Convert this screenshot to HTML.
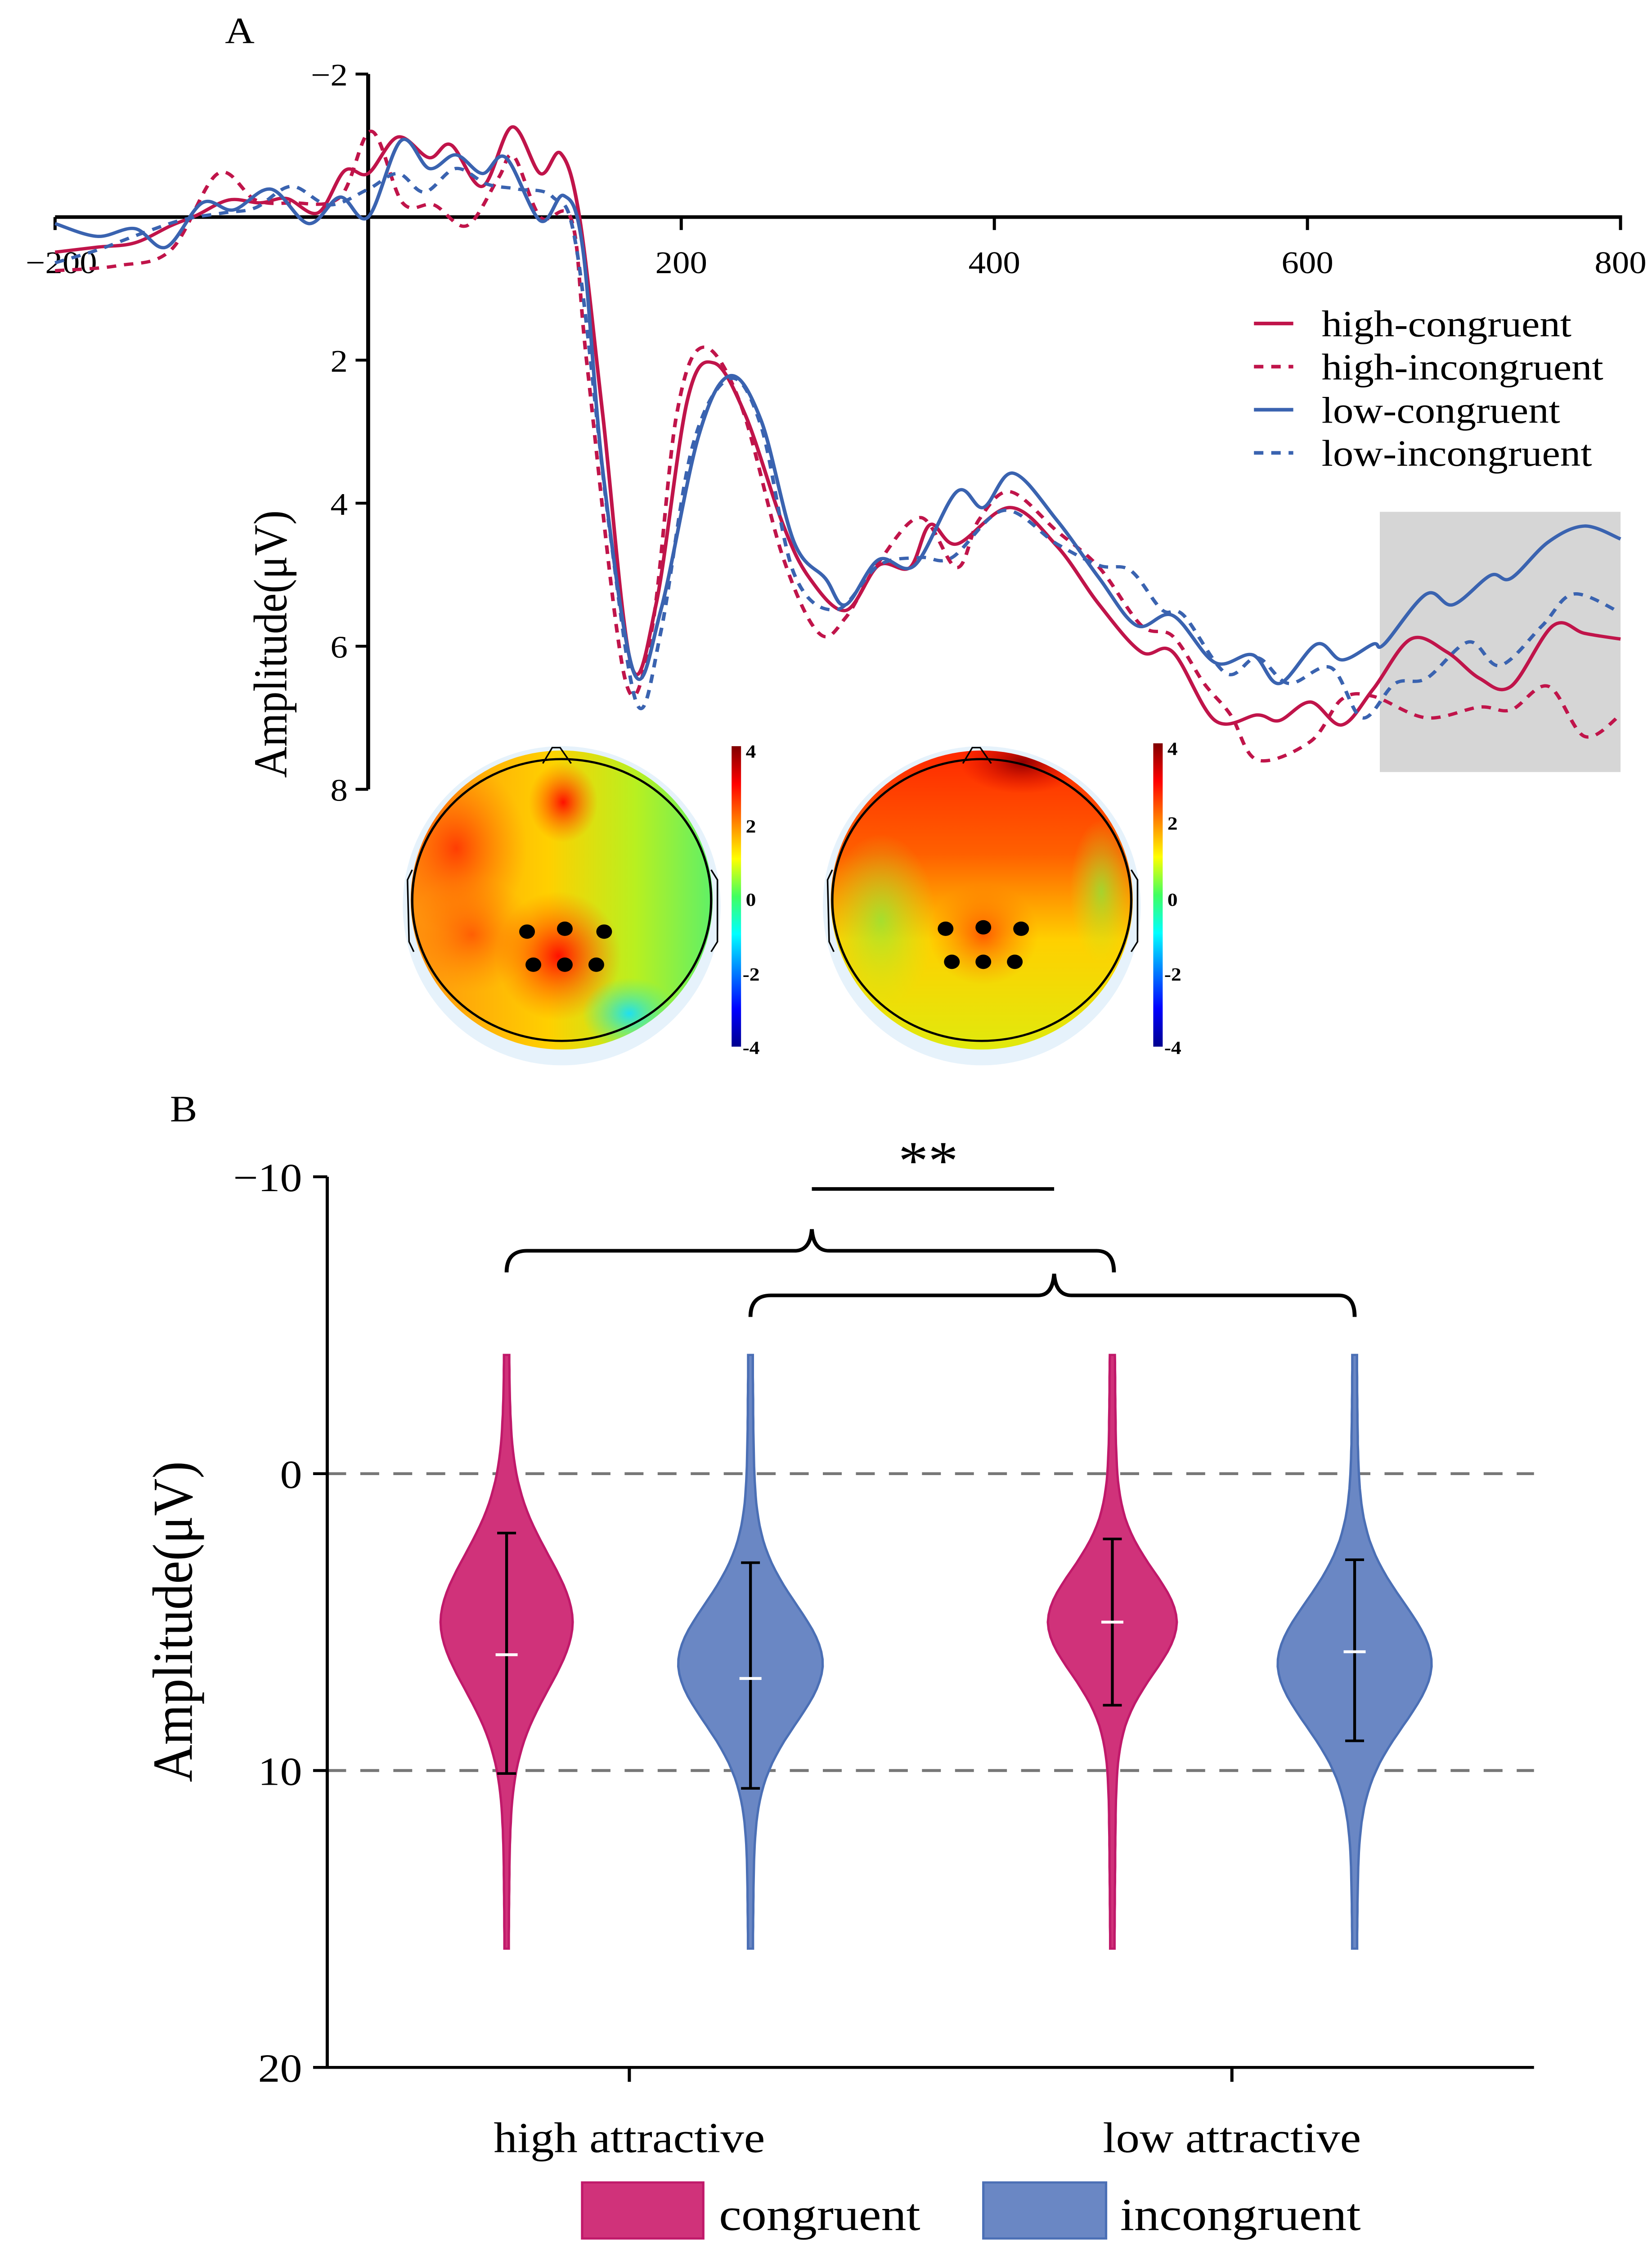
<!DOCTYPE html>
<html><head><meta charset="utf-8"><style>
html,body{margin:0;padding:0;background:#fff;width:100%;height:100%;overflow:hidden;}
svg{display:block;position:fixed;left:0;top:0;width:100vw;height:100vh;}
text{font-family:"Liberation Serif",serif;fill:#000;}
</style></head><body>
<svg id="fig" xmlns="http://www.w3.org/2000/svg" viewBox="0 0 1050 1565" preserveAspectRatio="none">
<defs>
<linearGradient id="cbar" x1="0" y1="1" x2="0" y2="0">
<stop offset="0" stop-color="#00008f"/><stop offset="0.125" stop-color="#0000ff"/><stop offset="0.375" stop-color="#00ffff"/><stop offset="0.5" stop-color="#40ff60"/><stop offset="0.625" stop-color="#ffff00"/><stop offset="0.875" stop-color="#ff0000"/><stop offset="1" stop-color="#800000"/>
</linearGradient>
<linearGradient id="t1base" x1="0" y1="0" x2="1" y2="0">
<stop offset="0" stop-color="#ff8a10"/><stop offset="0.45" stop-color="#ffd000"/><stop offset="0.7" stop-color="#b8f020"/><stop offset="1" stop-color="#40f080"/>
</linearGradient>
<linearGradient id="t2base" x1="0" y1="0" x2="0" y2="1">
<stop offset="0" stop-color="#ff2000"/><stop offset="0.35" stop-color="#ff6000"/><stop offset="0.6" stop-color="#ffd000"/><stop offset="1" stop-color="#d8f010"/>
</linearGradient>
<radialGradient id="blobRed"><stop offset="0" stop-color="#ff1000" stop-opacity="1"/><stop offset="1" stop-color="#ff6000" stop-opacity="0"/></radialGradient>
<radialGradient id="blobCyan"><stop offset="0" stop-color="#20e0f0" stop-opacity="1"/><stop offset="1" stop-color="#40f0a0" stop-opacity="0"/></radialGradient>
<radialGradient id="blobDark"><stop offset="0" stop-color="#900000" stop-opacity="1"/><stop offset="1" stop-color="#e00000" stop-opacity="0"/></radialGradient>
<radialGradient id="blobGreen"><stop offset="0" stop-color="#80f040" stop-opacity="1"/><stop offset="1" stop-color="#c0f020" stop-opacity="0"/></radialGradient>
<clipPath id="clipL"><ellipse cx="357" cy="626" rx="96" ry="104"/></clipPath>
<clipPath id="clipR"><ellipse cx="624" cy="626" rx="96" ry="104"/></clipPath>
</defs>

<text x="143" y="30" font-size="26">A</text>
<rect x="877" y="356" width="153" height="181" fill="#d6d6d6"/>
<g id="erpAxes"></g>
<g id="erpLines"></g>
<text transform="translate(182,448) rotate(-90)" font-size="30" text-anchor="middle">Amplitude(μV)</text>

<g>
<line x1="797" y1="225" x2="822" y2="225" stroke="#c0144a" stroke-width="2.5"/>
<text x="840" y="234" font-size="26">high-congruent</text>
<line x1="797" y1="255" x2="822" y2="255" stroke="#c0144a" stroke-width="2.5" stroke-dasharray="6,5"/>
<text x="840" y="264" font-size="26">high-incongruent</text>
<line x1="797" y1="285" x2="822" y2="285" stroke="#3a63b0" stroke-width="2.5"/>
<text x="840" y="294" font-size="26">low-congruent</text>
<line x1="797" y1="315" x2="822" y2="315" stroke="#3a63b0" stroke-width="2.5" stroke-dasharray="6,5"/>
<text x="840" y="324" font-size="26">low-incongruent</text>
</g>

<g>
<ellipse cx="357" cy="630" rx="101" ry="111" fill="#e6f2fb"/>
<g clip-path="url(#clipL)">
<rect x="250" y="510" width="220" height="240" fill="url(#t1base)"/>
<ellipse cx="290" cy="590" rx="45" ry="60" fill="url(#blobRed)" opacity="0.7"/>
<ellipse cx="358" cy="558" rx="22" ry="28" fill="url(#blobRed)"/>
<ellipse cx="355" cy="665" rx="40" ry="45" fill="url(#blobRed)"/>
<ellipse cx="300" cy="650" rx="40" ry="40" fill="url(#blobRed)" opacity="0.5"/>
<ellipse cx="400" cy="705" rx="30" ry="25" fill="url(#blobCyan)"/>
</g>
<ellipse cx="357" cy="626" rx="95" ry="98" fill="none" stroke="#000" stroke-width="1.5"/>
<path d="M345 531 L351 520 L356 520 L363 531" fill="none" stroke="#000" stroke-width="1"/>
<path d="M262 605 L259 612 L260 655 L263 662" fill="none" stroke="#000" stroke-width="1"/>
<path d="M452 605 L456 612 L456 655 L452 662" fill="none" stroke="#000" stroke-width="1"/>
<circle cx="335" cy="648" r="5"/>
<circle cx="359" cy="646" r="5"/>
<circle cx="384" cy="648" r="5"/>
<circle cx="339" cy="671" r="5"/>
<circle cx="359" cy="671" r="5"/>
<circle cx="379" cy="671" r="5"/>
</g>
<g>
<rect x="465" y="519" width="6" height="209" fill="url(#cbar)"/>
<text x="474" y="527" font-size="13" font-weight="bold">4</text>
<text x="474" y="579" font-size="13" font-weight="bold">2</text>
<text x="474" y="630" font-size="13" font-weight="bold">0</text>
<text x="472" y="682" font-size="13" font-weight="bold">-2</text>
<text x="472" y="733" font-size="13" font-weight="bold">-4</text>
</g>

<g>
<ellipse cx="624" cy="630" rx="101" ry="111" fill="#e6f2fb"/>
<g clip-path="url(#clipR)">
<rect x="515" y="510" width="220" height="240" fill="url(#t2base)"/>
<ellipse cx="560" cy="640" rx="35" ry="60" fill="url(#blobGreen)" opacity="0.7"/>
<ellipse cx="700" cy="620" rx="20" ry="50" fill="url(#blobGreen)" opacity="0.7"/>
<ellipse cx="625" cy="650" rx="35" ry="35" fill="url(#blobRed)" opacity="0.6"/>
<ellipse cx="650" cy="530" rx="40" ry="22" fill="url(#blobDark)"/>
</g>
<ellipse cx="624" cy="626" rx="95" ry="98" fill="none" stroke="#000" stroke-width="1.5"/>
<path d="M612 531 L618 520 L623 520 L630 531" fill="none" stroke="#000" stroke-width="1"/>
<path d="M529 605 L526 612 L527 655 L530 662" fill="none" stroke="#000" stroke-width="1"/>
<path d="M719 605 L723 612 L723 655 L719 662" fill="none" stroke="#000" stroke-width="1"/>
<circle cx="601" cy="646" r="5"/>
<circle cx="625" cy="645" r="5"/>
<circle cx="649" cy="646" r="5"/>
<circle cx="605" cy="669" r="5"/>
<circle cx="625" cy="669" r="5"/>
<circle cx="645" cy="669" r="5"/>
</g>
<g>
<rect x="733" y="517" width="6" height="211" fill="url(#cbar)"/>
<text x="742" y="525" font-size="13" font-weight="bold">4</text>
<text x="742" y="577" font-size="13" font-weight="bold">2</text>
<text x="742" y="630" font-size="13" font-weight="bold">0</text>
<text x="740" y="682" font-size="13" font-weight="bold">-2</text>
<text x="740" y="733" font-size="13" font-weight="bold">-4</text>
</g>

<text x="108" y="780" font-size="26">B</text>
<g id="violinAxes"></g>
<g id="violins"></g>
<text transform="translate(122,1128) rotate(-90)" font-size="36" text-anchor="middle">Amplitude(μV)</text>

<g>
<path d="M322 885 Q322 870 335 870 L505 870 Q515 870 516 855 Q517 870 527 870 L697 870 Q708 870 708 885" fill="none" stroke="#000" stroke-width="2.5"/>
<path d="M477 916 Q477 901 490 901 L660 901 Q669 901 670 886 Q671 901 681 901 L851 901 Q861 901 861 916" fill="none" stroke="#000" stroke-width="2.5"/>
<line x1="516" y1="827" x2="670" y2="827" stroke="#000" stroke-width="2.5"/>
<text x="590" y="820" font-size="38" text-anchor="middle">**</text>
</g>

<g>
<rect x="370" y="1518" width="77" height="39" fill="#d0327a" stroke="#c0196a" stroke-width="1.5"/>
<text x="457" y="1551" font-size="32">congruent</text>
<rect x="625" y="1518" width="78" height="39" fill="#6a87c4" stroke="#4b6fb5" stroke-width="1.5"/>
<text x="712" y="1551" font-size="32">incongruent</text>
</g>
</svg>

<script>
const hcT=[-200,-173,-149,-126,-110,-89,-69,-52,-32,-15,0,19,39,53,73,92,110,123,135,150,168,184,204,221,241,265,282,305,326,346,359,376,410,440,467,494,514,541,568,582,602,622,642,666,689,710,730,757,777,800];
const hcV=[0.49,0.42,0.36,0.12,-0.02,-0.24,-0.2,-0.26,-0.06,-0.65,-0.61,-1.12,-0.83,-1.01,-0.43,-1.26,-0.61,-0.89,0,2.8,6.26,5.4,2.55,2.04,2.77,4.3,5.05,5.5,4.87,4.9,4.3,4.57,4.06,4.6,5.42,6.08,6.08,7.04,6.96,7.04,6.78,7.1,6.6,5.9,6.08,6.45,6.56,5.71,5.82,5.9];
const hiT=[-200,-160,-126,-96,-72,-49,-18,2,22,42,63,83,93,110,130,140,164,181,197,214,238,265,288,305,326,353,376,390,410,440,467,494,514,534,551,568,602,622,642,676,710,730,754,777,800];
const hiV=[0.75,0.68,0.46,-0.61,-0.24,-0.2,-0.28,-1.2,-0.2,-0.17,0.12,-0.54,-0.85,0,0.05,2.1,6.45,5.79,2.77,1.82,2.62,4.76,5.82,5.6,4.83,4.2,4.9,4.24,3.84,4.39,4.9,5.71,5.86,6.52,6.96,7.59,7.33,6.74,6.7,7.0,6.85,6.89,6.56,7.26,6.96];
const lcT=[-200,-173,-149,-129,-106,-86,-62,-38,-18,0,21,39,56,73,88,110,125,137,150,170,187,211,231,251,272,292,305,326,349,376,393,412,440,467,491,514,541,565,582,606,622,642,649,676,693,717,730,754,777,800];
const lcV=[0.09,0.27,0.16,0.42,-0.2,-0.1,-0.39,0.09,-0.28,0,-1.07,-0.68,-0.87,-0.61,-0.83,0.05,-0.3,0.42,3.58,6.38,5.49,3.07,2.22,2.84,4.54,5.05,5.42,4.79,4.87,3.84,4.06,3.58,4.24,5.05,5.71,5.57,6.23,6.12,6.52,5.97,6.19,5.97,5.97,5.27,5.42,5.01,5.05,4.54,4.32,4.5];
const liT=[-200,-173,-146,-119,-92,-72,-49,-25,0,19,36,56,76,96,118,133,154,172,187,207,231,251,272,299,326,353,373,406,440,467,487,507,521,548,568,588,615,635,656,676,703,723,750,770,800];
const liV=[0.64,0.46,0.24,0.04,-0.06,-0.13,-0.43,-0.17,-0.39,-0.61,-0.35,-0.68,-0.46,-0.39,-0.28,0.42,4.32,6.82,5.79,3.22,2.26,2.92,4.98,5.49,4.87,4.76,4.76,4.1,4.57,4.87,4.94,5.49,5.57,6.38,6.16,6.52,6.3,7.0,6.52,6.45,5.94,6.27,5.71,5.27,5.53];
const xTicks=[-200,200,400,600,800];
const yTicks=[-2,2,4,6,8];

const conditions=["high-congruent","high-incongruent","low-congruent","low-incongruent"];
const means=[6.1,6.9,5.0,6.0];
const lowerErr=[2.0,3.0,2.2,2.9];
const upperErr=[10.1,10.6,7.8,9.0];
const modes=[5.0,6.4,5.0,6.4];
const spreads=[2.6,2.3,2.0,2.4];
const peakWidths=[38,42,37,45];
const violinMin=[-4,-4,-4,-4];
const violinMax=[16,16,16,16];
const vTicks=[-10,0,10,20];
const groupLabels=["high attractive","low attractive"];

const NS="http://www.w3.org/2000/svg";
function mk(tag,attrs,parent){const e=document.createElementNS(NS,tag);for(const k in attrs)e.setAttribute(k,attrs[k]);parent.appendChild(e);return e;}

const ex=t=>234+(t-0)*(1030-35)/1000;
const ey=v=>151+v*49.75;
const ax=document.getElementById('erpAxes');
let l=mk('line',{x1:35,y1:ey(0),x2:1031,y2:ey(0),stroke:'#000','stroke-width':2.5},ax);


l=mk('line',{x1:234,y1:ey(-2),x2:234,y2:ey(8),stroke:'#000','stroke-width':2.5},ax);


xTicks.forEach(t=>{
  const tk=mk('line',{x1:ex(t),y1:ey(0),x2:ex(t),y2:ey(0)+9,stroke:'#000','stroke-width':2},ax);
  
  
  const tx=mk('text',{x:ex(t)+(t===-200?4:0),y:190,'font-size':22,'text-anchor':'middle'},ax);
  tx.textContent=t<0?'−'+(-t):String(t);
  
  
});
yTicks.forEach(v=>{
  const tk=mk('line',{x1:226,y1:ey(v),x2:234,y2:ey(v),stroke:'#000','stroke-width':2},ax);
  
  
  const tx=mk('text',{x:221,y:ey(v)+8,'font-size':22,'text-anchor':'end'},ax);
  tx.textContent=v<0?'−'+(-v):String(v);
  
  
});
function smooth(pts){
  let d='M'+pts[0][0].toFixed(1)+' '+pts[0][1].toFixed(1);
  for(let i=0;i<pts.length-1;i++){
    const p0=pts[Math.max(0,i-1)],p1=pts[i],p2=pts[i+1],p3=pts[Math.min(pts.length-1,i+2)];
    const c1=[p1[0]+(p2[0]-p0[0])/6,p1[1]+(p2[1]-p0[1])/6];
    const c2=[p2[0]-(p3[0]-p1[0])/6,p2[1]-(p3[1]-p1[1])/6];
    d+=` C${c1[0].toFixed(1)} ${c1[1].toFixed(1)} ${c2[0].toFixed(1)} ${c2[1].toFixed(1)} ${p2[0].toFixed(1)} ${p2[1].toFixed(1)}`;
  }
  return d;
}
const lines=document.getElementById('erpLines');
[[hcT,hcV,'#c0144a',null,'line-high-congruent'],[hiT,hiV,'#c0144a','6,5','line-high-incongruent'],
 [lcT,lcV,'#3a63b0',null,'line-low-congruent'],[liT,liV,'#3a63b0','6,5','line-low-incongruent']].forEach(s=>{
  const pts=s[0].map((t,i)=>[ex(t),ey(s[1][i])]);
  const a={d:smooth(pts),fill:'none',stroke:s[2],'stroke-width':2.3};
  if(s[3])a['stroke-dasharray']=s[3];
  const p=mk('path',a,lines);
  
  
});

const vy=v=>1025+v*20.65;
const centers=[322,477,707,861];
const groupX=[400,783];
const va=document.getElementById('violinAxes');
[0,10].forEach(v=>{
  const g=mk('line',{x1:208,y1:vy(v),x2:975,y2:vy(v),stroke:'#777','stroke-width':2,'stroke-dasharray':'12,9'},va);
  
  
});
l=mk('line',{x1:208,y1:vy(-10),x2:208,y2:vy(20),stroke:'#000','stroke-width':2},va);


l=mk('line',{x1:207,y1:vy(20),x2:975,y2:vy(20),stroke:'#000','stroke-width':2},va);


vTicks.forEach(v=>{
  const tk=mk('line',{x1:199,y1:vy(v),x2:208,y2:vy(v),stroke:'#000','stroke-width':2},va);
  
  
  const tx=mk('text',{x:192,y:vy(v)+10,'font-size':28,'text-anchor':'end'},va);
  tx.textContent=v<0?'−'+(-v):String(v);
  
  
});
groupLabels.forEach((g,i)=>{
  const tk=mk('line',{x1:groupX[i],y1:vy(20),x2:groupX[i],y2:vy(20)+10,stroke:'#000','stroke-width':2},va);
  
  
  const tx=mk('text',{x:groupX[i],y:1497,'font-size':30,'text-anchor':'middle'},va);
  tx.textContent=g;
  
  
});
const vg=document.getElementById('violins');
conditions.forEach((c,i)=>{
  const red=i%2===0;
  const cx=centers[i];
  const left=[],right=[];
  for(let k=0;k<=80;k++){
    const v=violinMin[i]+(violinMax[i]-violinMin[i])*k/80;
    const z=(v-modes[i])/spreads[i];
    let w=peakWidths[i]*Math.exp(-z*z/2)/(1+0.15*z*z)+3.5*Math.exp(-Math.abs(v-modes[i])/8)+0.5;
    right.push([cx+w,vy(v)]);left.push([cx-w,vy(v)]);
  }
  let d='M'+right.map(p=>p[0].toFixed(1)+' '+p[1].toFixed(1)).join(' L')+' L'+left.reverse().map(p=>p[0].toFixed(1)+' '+p[1].toFixed(1)).join(' L')+'Z';
  const p=mk('path',{d,fill:red?'#d0327a':'#6a87c4',stroke:red?'#c0196a':'#4b6fb5','stroke-width':1.5},vg);
  
  
  const e=mk('path',{d:`M${cx-6} ${vy(lowerErr[i])} H${cx+6} M${cx} ${vy(lowerErr[i])} V${vy(upperErr[i])} M${cx-6} ${vy(upperErr[i])} H${cx+6}`,stroke:'#000','stroke-width':1.8,fill:'none'},vg);
  
  
  const m=mk('line',{x1:cx-7,y1:vy(means[i]),x2:cx+7,y2:vy(means[i]),stroke:'#fff','stroke-width':2},vg);
  
  
});
</script>
</body></html>
